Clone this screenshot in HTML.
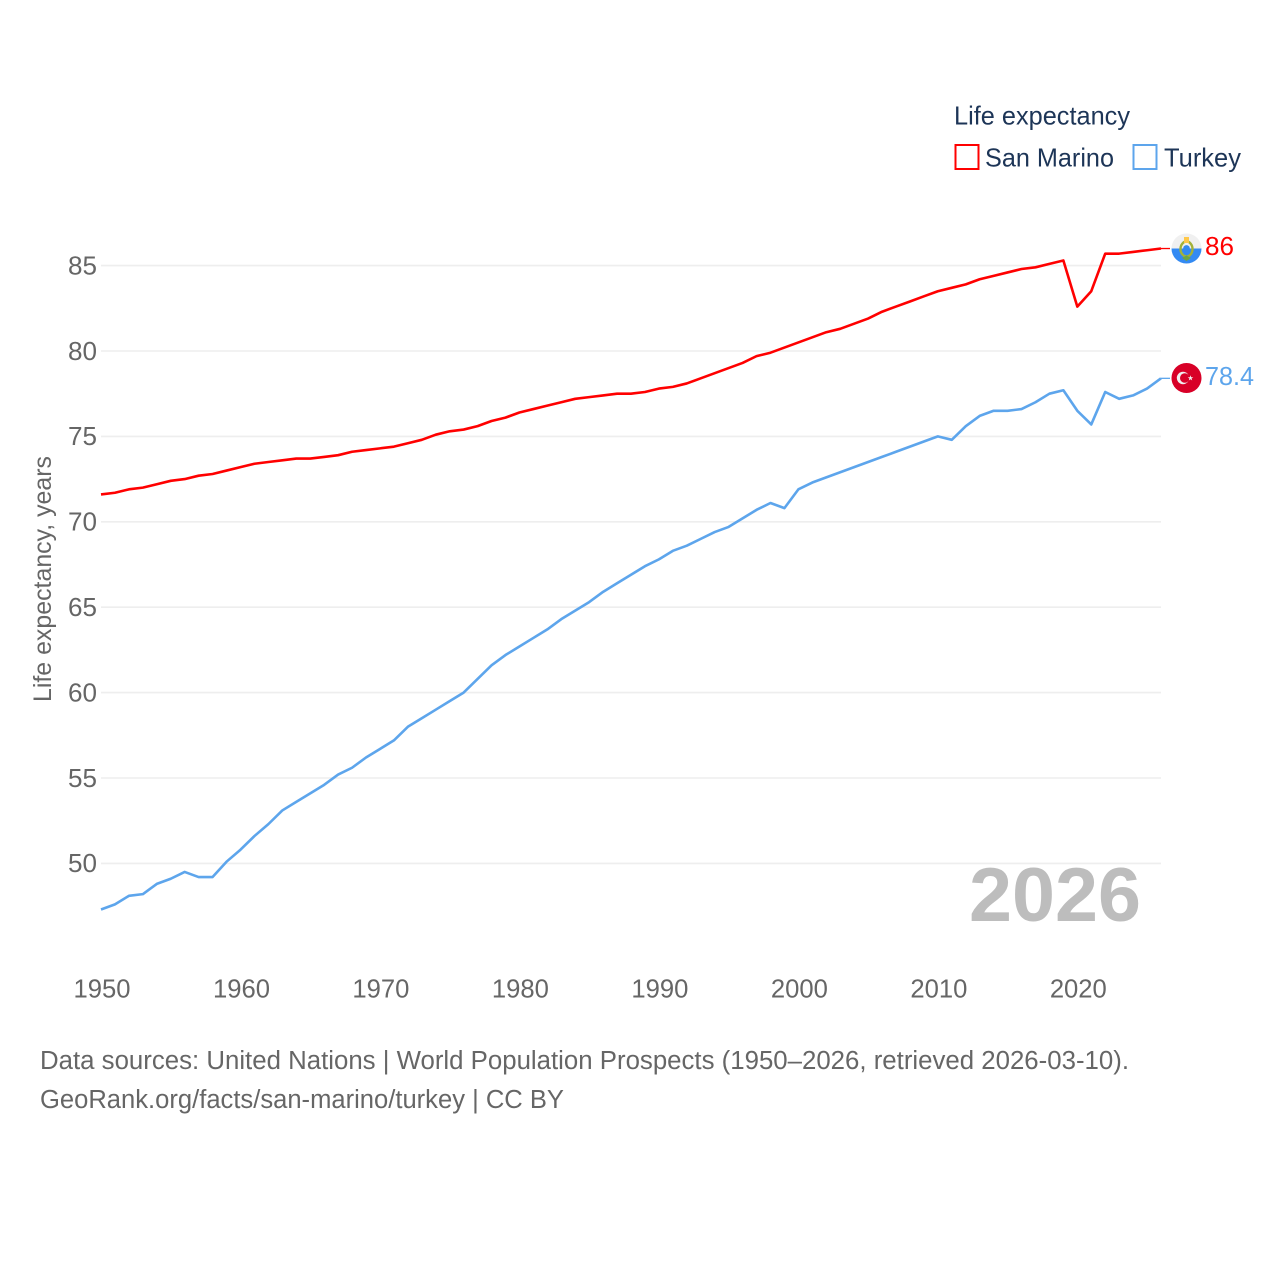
<!DOCTYPE html>
<html>
<head>
<meta charset="utf-8">
<title>Life expectancy: San Marino and Turkey</title>
<style>
html,body{margin:0;padding:0;background:#fff;}
svg{display:block;}
text{font-family:"Liberation Sans",sans-serif;}
</style>
</head>
<body>
<svg id="chart" xmlns="http://www.w3.org/2000/svg" width="1280" height="1280" viewBox="0 0 1280 1280">
  <rect width="1280" height="1280" fill="#fff"/>
  <g id="grid"></g>
  <g id="yticks"></g>
  <g id="xticks"></g>
  <text transform="translate(51,702) rotate(-90)" font-size="25" fill="#666" textLength="246" lengthAdjust="spacingAndGlyphs">Life expectancy, years</text>
  <text x="969" y="921" font-size="76" font-weight="bold" fill="#bdbdbd" textLength="172" lengthAdjust="spacingAndGlyphs">2026</text>
  <g id="series"></g>

  <g>
    <circle cx="1186.5" cy="248.5" r="15" fill="#f0f0f0"/>
    <path d="M1171.5 248.5 a15 15 0 0 0 30 0 z" fill="#338af3"/>
    <ellipse cx="1186.5" cy="249" rx="6" ry="7.5" fill="none" stroke="#a2b23a" stroke-width="2.4"/>
    <circle cx="1186.5" cy="248.5" r="3.4" fill="#338af3"/>
    <rect x="1184" y="237" width="5" height="6" fill="#ffc84a"/>
    <path d="M1182 258 L1186.5 261 L1191 258 L1186.5 255.5 Z" fill="#6da544"/>
  </g>
  <text x="1205" y="255" font-size="25.5" fill="#ff0000" textLength="29" lengthAdjust="spacingAndGlyphs">86</text>

  <g>
    <circle cx="1186.5" cy="378" r="15" fill="#d80027"/>
    <circle cx="1183" cy="378" r="6.2" fill="#f0f0f0"/>
    <circle cx="1184.8" cy="378" r="4.8" fill="#d80027"/>
    <path d="M1190.5 375.2 L1191.2 377.2 L1193.3 377.2 L1191.6 378.5 L1192.2 380.5 L1190.5 379.3 L1188.8 380.5 L1189.4 378.5 L1187.7 377.2 L1189.8 377.2 Z" fill="#f0f0f0"/>
  </g>
  <text x="1205" y="385" font-size="25.5" fill="#5da5ec" textLength="49" lengthAdjust="spacingAndGlyphs">78.4</text>

  <g>
    <text x="954" y="124.5" font-size="26" fill="#1d3557" textLength="176" lengthAdjust="spacingAndGlyphs">Life expectancy</text>
    <g>
      <rect x="955.5" y="145" width="23" height="24" fill="none" stroke="#ff0000" stroke-width="2"/>
      <text x="985" y="166.5" font-size="26" fill="#1d3557" textLength="129" lengthAdjust="spacingAndGlyphs">San Marino</text>
    </g>
    <g>
      <rect x="1133.5" y="145" width="23" height="24" fill="none" stroke="#5da5ec" stroke-width="2"/>
      <text x="1164" y="166.5" font-size="26" fill="#1d3557" textLength="77" lengthAdjust="spacingAndGlyphs">Turkey</text>
    </g>
  </g>

  <text x="40" y="1069" font-size="25.5" fill="#666" textLength="1089" lengthAdjust="spacingAndGlyphs">Data sources: United Nations | World Population Prospects (1950–2026, retrieved 2026-03-10).</text>
  <text x="40" y="1108" font-size="25.5" fill="#666" textLength="524" lengthAdjust="spacingAndGlyphs">GeoRank.org/facts/san-marino/turkey | CC BY</text>
</svg>
<script>
const firstYear = 1950;
const yTickLabels = [50, 55, 60, 65, 70, 75, 80, 85];
const xTickLabels = [1950, 1960, 1970, 1980, 1990, 2000, 2010, 2020];
const sanMarinoValues = [
  71.6,71.7,71.9,72.0,72.2,72.4,72.5,72.7,72.8,73.0,
  73.2,73.4,73.5,73.6,73.7,73.7,73.8,73.9,74.1,74.2,
  74.3,74.4,74.6,74.8,75.1,75.3,75.4,75.6,75.9,76.1,
  76.4,76.6,76.8,77.0,77.2,77.3,77.4,77.5,77.5,77.6,
  77.8,77.9,78.1,78.4,78.7,79.0,79.3,79.7,79.9,80.2,
  80.5,80.8,81.1,81.3,81.6,81.9,82.3,82.6,82.9,83.2,
  83.5,83.7,83.9,84.2,84.4,84.6,84.8,84.9,85.1,85.3,
  82.6,83.5,85.7,85.7,85.8,85.9,86.0
];
const turkeyValues = [
  47.3,47.6,48.1,48.2,48.8,49.1,49.5,49.2,49.2,50.1,
  50.8,51.6,52.3,53.1,53.6,54.1,54.6,55.2,55.6,56.2,
  56.7,57.2,58.0,58.5,59.0,59.5,60.0,60.8,61.6,62.2,
  62.7,63.2,63.7,64.3,64.8,65.3,65.9,66.4,66.9,67.4,
  67.8,68.3,68.6,69.0,69.4,69.7,70.2,70.7,71.1,70.8,
  71.9,72.3,72.6,72.9,73.2,73.5,73.8,74.1,74.4,74.7,
  75.0,74.8,75.6,76.2,76.5,76.5,76.6,77.0,77.5,77.7,
  76.5,75.7,77.6,77.2,77.4,77.8,78.4
];

const NS = 'http://www.w3.org/2000/svg';
const xScale = function (year) { return 101 + (year - 1950) * (1060 / 76); };
const yScale = function (v) { return 863.4 - (v - 50) * 17.08; };

function make(tag, attrs, parent) {
  const el = document.createElementNS(NS, tag);
  Object.keys(attrs).forEach(function (k) { el.setAttribute(k, attrs[k]); });
  parent.appendChild(el);
  return el;
}

const gridGroup = document.getElementById('grid');
const yGroup = document.getElementById('yticks');
const xGroup = document.getElementById('xticks');
const seriesGroup = document.getElementById('series');

yTickLabels.forEach(function (v) {
  const y = yScale(v);
  const line = make('line', {x1: 101, x2: 1161, y1: y, y2: y, stroke: '#eeeeee', 'stroke-width': 1.6}, gridGroup);
  
  
  const label = make('text', {x: 97, y: y + 8.8, 'text-anchor': 'end', 'font-size': 25.5, fill: '#666', textLength: 29, lengthAdjust: 'spacingAndGlyphs'}, yGroup);
  
  
  label.textContent = v;
});

xTickLabels.forEach(function (yr) {
  const label = make('text', {x: xScale(yr) - 27.5, y: 997.5, 'font-size': 25.5, fill: '#666', textLength: 57, lengthAdjust: 'spacingAndGlyphs'}, xGroup);
  
  
  label.textContent = yr;
});

function drawSeries(values, colour, name) {
  const pts = values.map(function (v, i) {
    return xScale(firstYear + i).toFixed(2) + ',' + yScale(v).toFixed(2);
  }).join(' ');
  const line = make('polyline', {points: pts, fill: 'none', stroke: colour, 'stroke-width': 2.6, 'stroke-linejoin': 'round'}, seriesGroup);
  
  
  const lastIndex = values.length - 1;
  const lastX = xScale(firstYear + lastIndex);
  const lastY = yScale(values[lastIndex]);
  const connector = make('line', {x1: lastX, x2: lastX + 9, y1: lastY, y2: lastY, stroke: colour, 'stroke-width': 1.3}, seriesGroup);
  
  
}

drawSeries(sanMarinoValues, '#ff0000', 'san-marino');
drawSeries(turkeyValues, '#5da5ec', 'turkey');
</script>
</body>
</html>
